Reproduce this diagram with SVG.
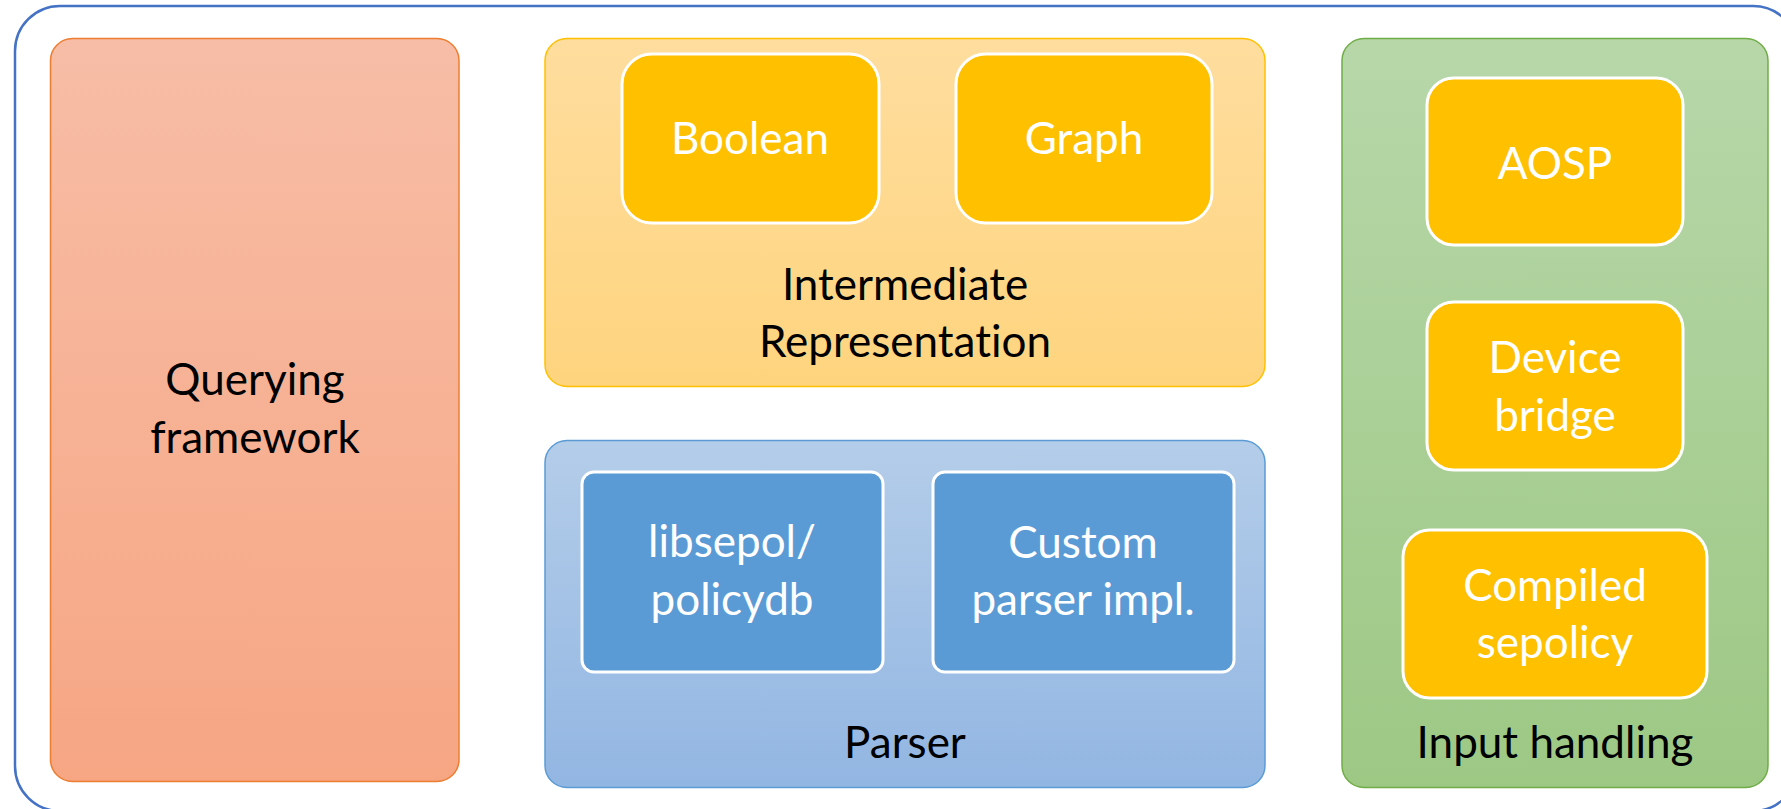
<svg xmlns="http://www.w3.org/2000/svg" width="1781" height="809" viewBox="0 0 1781 809">
<defs>
<linearGradient id="gOrange" x1="0" y1="0" x2="0" y2="1"><stop offset="0" stop-color="#F7BDA6"/><stop offset="1" stop-color="#F6A683"/></linearGradient>
<linearGradient id="gYellow" x1="0" y1="0" x2="0" y2="1"><stop offset="0" stop-color="#FEDD9E"/><stop offset="1" stop-color="#FED47E"/></linearGradient>
<linearGradient id="gBlue" x1="0" y1="0" x2="0" y2="1"><stop offset="0" stop-color="#B4CDE9"/><stop offset="1" stop-color="#92B6E2"/></linearGradient>
<linearGradient id="gGreen" x1="0" y1="0" x2="0" y2="1"><stop offset="0" stop-color="#B7D7A9"/><stop offset="1" stop-color="#9DC884"/></linearGradient>
<style>
.t{font-family:Lato,"Liberation Sans",sans-serif;font-size:44px;text-anchor:middle;font-variant-ligatures:none}
.dark{fill:#000}
.light{fill:#fff}
.inY{fill:#FFC000;stroke:#fff;stroke-width:3}
.inB{fill:#5B9BD5;stroke:#fff;stroke-width:3}
</style>
</defs>
<rect id="frame" x="15" y="6" width="1783" height="805" rx="45" fill="#fff" stroke="#4472C4" stroke-width="2.5"/>
<g id="querying">
<rect x="50.5" y="38.5" width="408.5" height="743" rx="22" fill="url(#gOrange)" stroke="#ED7D31" stroke-width="1.5"/>
<text class="t dark" x="255" y="395">Querying</text>
<text class="t dark" x="255" y="453">framework</text>
</g>
<g id="ir">
<rect x="545" y="38.5" width="720" height="348" rx="22" fill="url(#gYellow)" stroke="#FFC000" stroke-width="1.5"/>
<text class="t dark" x="905" y="300">Intermediate</text>
<text class="t dark" x="905" y="357">Representation</text>
</g>
<g id="boolean">
<rect class="inY" x="622" y="54" width="257" height="169" rx="30"/>
<text class="t light" x="750" y="154">Boolean</text>
</g>
<g id="graph">
<rect class="inY" x="956" y="54" width="256" height="169" rx="30"/>
<text class="t light" x="1084" y="154">Graph</text>
</g>
<g id="parser">
<rect x="545" y="440.5" width="720" height="347" rx="22" fill="url(#gBlue)" stroke="#5B9BD5" stroke-width="1.5"/>
<text class="t dark" x="905" y="758">Parser</text>
</g>
<g id="libsepol">
<rect class="inB" x="582" y="472" width="301" height="200" rx="12"/>
<text class="t light" x="732" y="557">libsepol/</text>
<text class="t light" x="732" y="615">policydb</text>
</g>
<g id="custom">
<rect class="inB" x="933" y="472" width="301" height="200" rx="12"/>
<text class="t light" x="1083" y="558">Custom</text>
<text class="t light" x="1083" y="615">parser impl.</text>
</g>
<g id="input">
<rect x="1342" y="38.5" width="426" height="749" rx="22" fill="url(#gGreen)" stroke="#70AD47" stroke-width="1.5"/>
<text class="t dark" x="1555" y="758">Input handling</text>
</g>
<g id="aosp">
<rect class="inY" x="1427" y="78" width="256" height="167" rx="27"/>
<text class="t light" x="1555" y="179">AOSP</text>
</g>
<g id="device">
<rect class="inY" x="1427" y="302" width="256" height="168" rx="27"/>
<text class="t light" x="1555" y="373">Device</text>
<text class="t light" x="1555" y="431">bridge</text>
</g>
<g id="compiled">
<rect class="inY" x="1403" y="530" width="304" height="168" rx="27"/>
<text class="t light" x="1555" y="601">Compiled</text>
<text class="t light" x="1555" y="658">sepolicy</text>
</g>
<g id="connectors"></g>
</svg>
